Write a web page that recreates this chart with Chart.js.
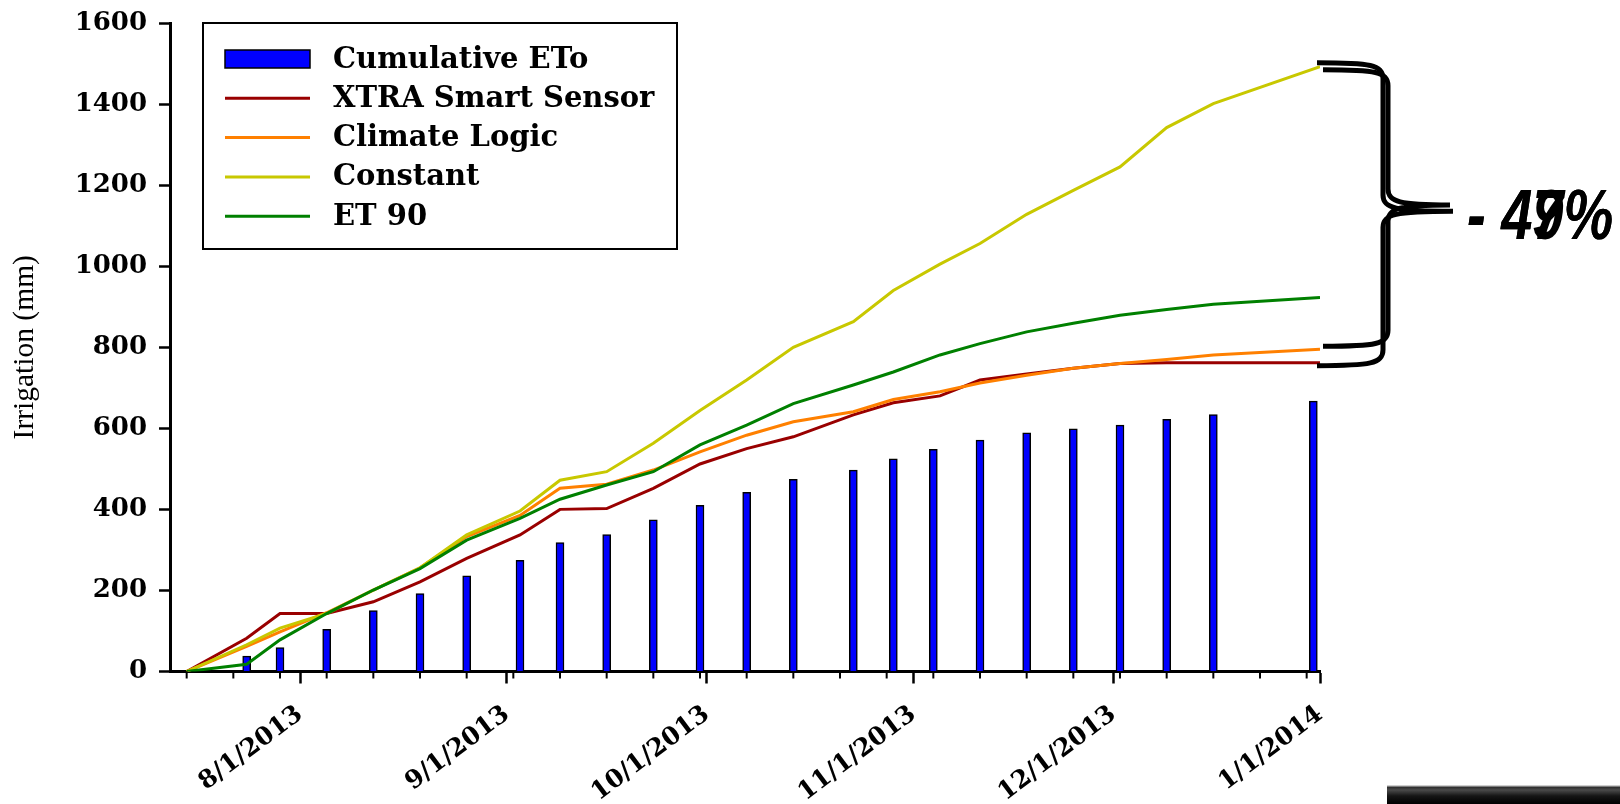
<!DOCTYPE html>
<html>
<head>
<meta charset="utf-8">
<title>Irrigation</title>
<script src="https://cdn.jsdelivr.net/npm/chart.js@4.4.1/dist/chart.umd.min.js"></script>
<style>
  html, body { margin: 0; padding: 0; background: #fff; }
  #wrap { position: relative; width: 1620px; height: 804px; }
  #strip { position: absolute; left: 1387px; top: 785px; width: 233px; height: 19px;
    background: linear-gradient(#cfcfcf 0px, #cfcfcf 1px, #2b2b2b 2px, #4a4a4a 5px, #151515 11px, #000 19px); }
</style>
</head>
<body>
<div id="wrap">
  <canvas id="mycanvas" width="1620" height="804"></canvas>
  <div id="strip"></div>
</div>
<script>
// x values are days counted from 7/1/2013 (= 0)
var monthTicks = [31, 62, 92, 123, 153, 184];
var monthLabels = ['8/1/2013', '9/1/2013', '10/1/2013', '11/1/2013', '12/1/2013', '1/1/2014'];
var weekTicks = [14, 21, 28, 35, 42, 49, 56, 63, 70, 77, 84, 91, 98, 105, 112, 119, 126, 133, 140, 147, 154, 161, 168, 175, 182];

var etoDays = [23, 28, 35, 42, 49, 56, 64, 70, 77, 84, 91, 98, 105, 114, 120, 126, 133, 140, 147, 154, 161, 168, 183];
var cumulativeETo = [38, 59, 104, 150, 192, 236, 274, 318, 338, 374, 410, 442, 474, 497, 525, 548, 571, 589, 599, 608, 622, 634, 667];

var lineDays = [14, 23, 28, 35, 42, 49, 56, 64, 70, 77, 84, 91, 98, 105, 114, 120, 127, 133, 140, 147, 154, 161, 168, 184];
var xtraSmart = [0, 82, 143, 143, 172, 221, 279, 337, 400, 402, 452, 512, 550, 579, 633, 663, 680, 719, 734, 748, 760, 762, 762, 762];
var climateLogic = [0, 62, 98, 145, 201, 256, 333, 385, 452, 462, 497, 542, 583, 616, 641, 671, 690, 712, 731, 748, 760, 770, 781, 795];
var constant = [0, 66, 107, 143, 201, 256, 337, 396, 472, 493, 563, 644, 719, 800, 863, 940, 1005, 1056, 1128, 1187, 1245, 1342, 1401, 1492];
var et90 = [0, 18, 78, 143, 201, 254, 324, 378, 425, 460, 493, 559, 608, 661, 707, 739, 781, 809, 838, 859, 879, 893, 906, 923];

function pts(days, vals) {
    return days.map(function(d, i) { return {x: d, y: vals[i]}; });
}

var boldSerif = {family: 'DejaVu Serif', weight: 'bold', size: 26};

// minor week ticks under the x axis
var weekTickPlugin = {
    id: 'weekTicks',
    afterDraw: function(chart) {
        var ctx = chart.ctx, xs = chart.scales.x, bottom = chart.chartArea.bottom;
        ctx.save();
        ctx.strokeStyle = '#000';
        ctx.lineWidth = 2;
        weekTicks.forEach(function(d) {
            var px = xs.getPixelForValue(d);
            ctx.beginPath();
            ctx.moveTo(px, bottom);
            ctx.lineTo(px, bottom + 7);
            ctx.stroke();
        });
        ctx.restore();
    }
};

// boxed legend inside the plot
var boxLegendPlugin = {
    id: 'boxLegend',
    afterDraw: function(chart) {
        var ctx = chart.ctx, ca = chart.chartArea;
        var bx = ca.left + 33, by = ca.top, bw = 474, bh = 226;
        ctx.save();
        ctx.fillStyle = '#fff';
        ctx.fillRect(bx, by, bw, bh);
        ctx.lineWidth = 2;
        ctx.strokeStyle = '#000';
        ctx.strokeRect(bx, by, bw, bh);
        ctx.font = 'bold 29px "DejaVu Serif"';
        ctx.textBaseline = 'middle';
        chart.data.datasets.forEach(function(ds, i) {
            var y = by + 36 + i * 39.3;
            if (ds.type === 'bar') {
                ctx.fillStyle = ds.backgroundColor;
                ctx.fillRect(bx + 22, y - 9, 85, 18);
                ctx.lineWidth = 1.5;
                ctx.strokeStyle = '#000';
                ctx.strokeRect(bx + 22, y - 9, 85, 18);
            } else {
                ctx.strokeStyle = ds.borderColor;
                ctx.lineWidth = 3;
                ctx.beginPath();
                ctx.moveTo(bx + 22, y);
                ctx.lineTo(bx + 107, y);
                ctx.stroke();
            }
            ctx.fillStyle = '#000';
            ctx.fillText(ds.label, bx + 130, y + 1);
        });
        ctx.restore();
    }
};

// curly braces and the reduction labels on the right
var bracePlugin = {
    id: 'braces',
    afterDraw: function(chart) {
        var ctx = chart.ctx, ca = chart.chartArea, ys = chart.scales.y;
        var constEnd = constant[constant.length - 1];
        var xtraEnd = xtraSmart[xtraSmart.length - 1];
        var climEnd = climateLogic[climateLogic.length - 1];
        var yTop = ys.getPixelForValue(constEnd);

        function brace(x0, xv, xt, yt, yb) {
            var ym = (yt + yb) / 2 - 3;
            ctx.beginPath();
            ctx.moveTo(x0, yt);
            ctx.bezierCurveTo(xv - 12, yt, xv, yt + 2, xv, yt + 16);
            ctx.lineTo(xv, ym - 16);
            ctx.bezierCurveTo(xv, ym - 3, xv + 12, ym, xt, ym);
            ctx.bezierCurveTo(xv + 12, ym, xv, ym + 3, xv, ym + 16);
            ctx.lineTo(xv, yb - 16);
            ctx.bezierCurveTo(xv, yb - 2, xv - 12, yb, x0, yb);
            ctx.stroke();
            return ym;
        }

        ctx.save();
        ctx.strokeStyle = '#000';
        ctx.lineWidth = 5;
        ctx.lineCap = 'butt';
        var ym = brace(ca.right - 3, ca.right + 63, ca.right + 133, yTop - 4, ys.getPixelForValue(xtraEnd) + 3);
        brace(ca.right + 3, ca.right + 68, ca.right + 130, yTop + 3, ys.getPixelForValue(climEnd) - 3);

        var labels = [
            '- ' + Math.round((1 - xtraEnd / constEnd) * 100) + '%',
            '- ' + Math.round((1 - climEnd / constEnd) * 100) + '%'
        ];
        ctx.fillStyle = '#000';
        ctx.font = 'italic bold 70px "Liberation Sans"';
        ctx.textBaseline = 'alphabetic';
        labels.forEach(function(t) {
            ctx.save();
            ctx.translate(ca.right + 147, ym + 28);
            ctx.scale(0.8, 1);
            ctx.fillText(t, 0, 0);
            ctx.restore();
        });
        ctx.restore();
    }
};

var ctx = document.getElementById('mycanvas');
var myChart = new Chart(ctx, {
    type: 'bar',
    data: {
        datasets: [
            {
                type: 'bar',
                label: 'Cumulative ETo',
                data: pts(etoDays, cumulativeETo),
                backgroundColor: '#0000FF',
                borderColor: '#000000',
                borderWidth: 1.5,
                barThickness: 8,
                order: 10
            },
            {
                type: 'line',
                label: 'XTRA Smart Sensor',
                data: pts(lineDays, xtraSmart),
                borderColor: '#990000',
                borderWidth: 3,
                pointRadius: 0,
                tension: 0,
                order: 4
            },
            {
                type: 'line',
                label: 'Climate Logic',
                data: pts(lineDays, climateLogic),
                borderColor: '#FF8000',
                borderWidth: 3,
                pointRadius: 0,
                tension: 0,
                order: 3
            },
            {
                type: 'line',
                label: 'Constant',
                data: pts(lineDays, constant),
                borderColor: '#C8C800',
                borderWidth: 3,
                pointRadius: 0,
                tension: 0,
                order: 2
            },
            {
                type: 'line',
                label: 'ET 90',
                data: pts(lineDays, et90),
                borderColor: '#008000',
                borderWidth: 3,
                pointRadius: 0,
                tension: 0,
                order: 1
            }
        ]
    },
    options: {
        responsive: false,
        animation: false,
        layout: { padding: { top: 23, right: 300, bottom: 0, left: 0 } },
        plugins: {
            legend: { display: false },
            tooltip: { enabled: false }
        },
        scales: {
            x: {
                type: 'linear',
                min: 11.5,
                max: 184,
                offset: false,
                afterBuildTicks: function(axis) {
                    axis.ticks = monthTicks.map(function(v) { return {value: v}; });
                },
                afterFit: function(s) { s.height = 132.5; },
                ticks: {
                    autoSkip: false,
                    minRotation: 37,
                    maxRotation: 37,
                    padding: 16,
                    color: '#000',
                    font: {family: 'DejaVu Serif', weight: 'bold', size: 25},
                    callback: function(v) {
                        var i = monthTicks.indexOf(v);
                        return i >= 0 ? monthLabels[i] : '';
                    }
                },
                grid: { drawOnChartArea: false, drawTicks: true, tickLength: 12, tickColor: '#000', tickWidth: 2.5, offset: false },
                border: { display: true, color: '#000', width: 3 }
            },
            y: {
                min: 0,
                max: 1600,
                afterFit: function(s) {
                    s.width = 170;
                    s.paddingTop = 0;
                    s.paddingBottom = 0;
                },
                ticks: {
                    stepSize: 200,
                    color: '#000',
                    font: boldSerif,
                    padding: 12,
                    callback: function(v) { return String(v); }
                },
                grid: { drawOnChartArea: false, drawTicks: true, tickLength: 11, tickColor: '#000', tickWidth: 2.5 },
                border: { display: true, color: '#000', width: 3 },
                title: {
                    display: true,
                    text: 'Irrigation (mm)',
                    color: '#000',
                    font: {family: 'Liberation Serif', size: 29.5},
                    padding: {top: 8, bottom: 0}
                }
            }
        }
    },
    plugins: [weekTickPlugin, boxLegendPlugin, bracePlugin]
});
</script>
</body>
</html>
